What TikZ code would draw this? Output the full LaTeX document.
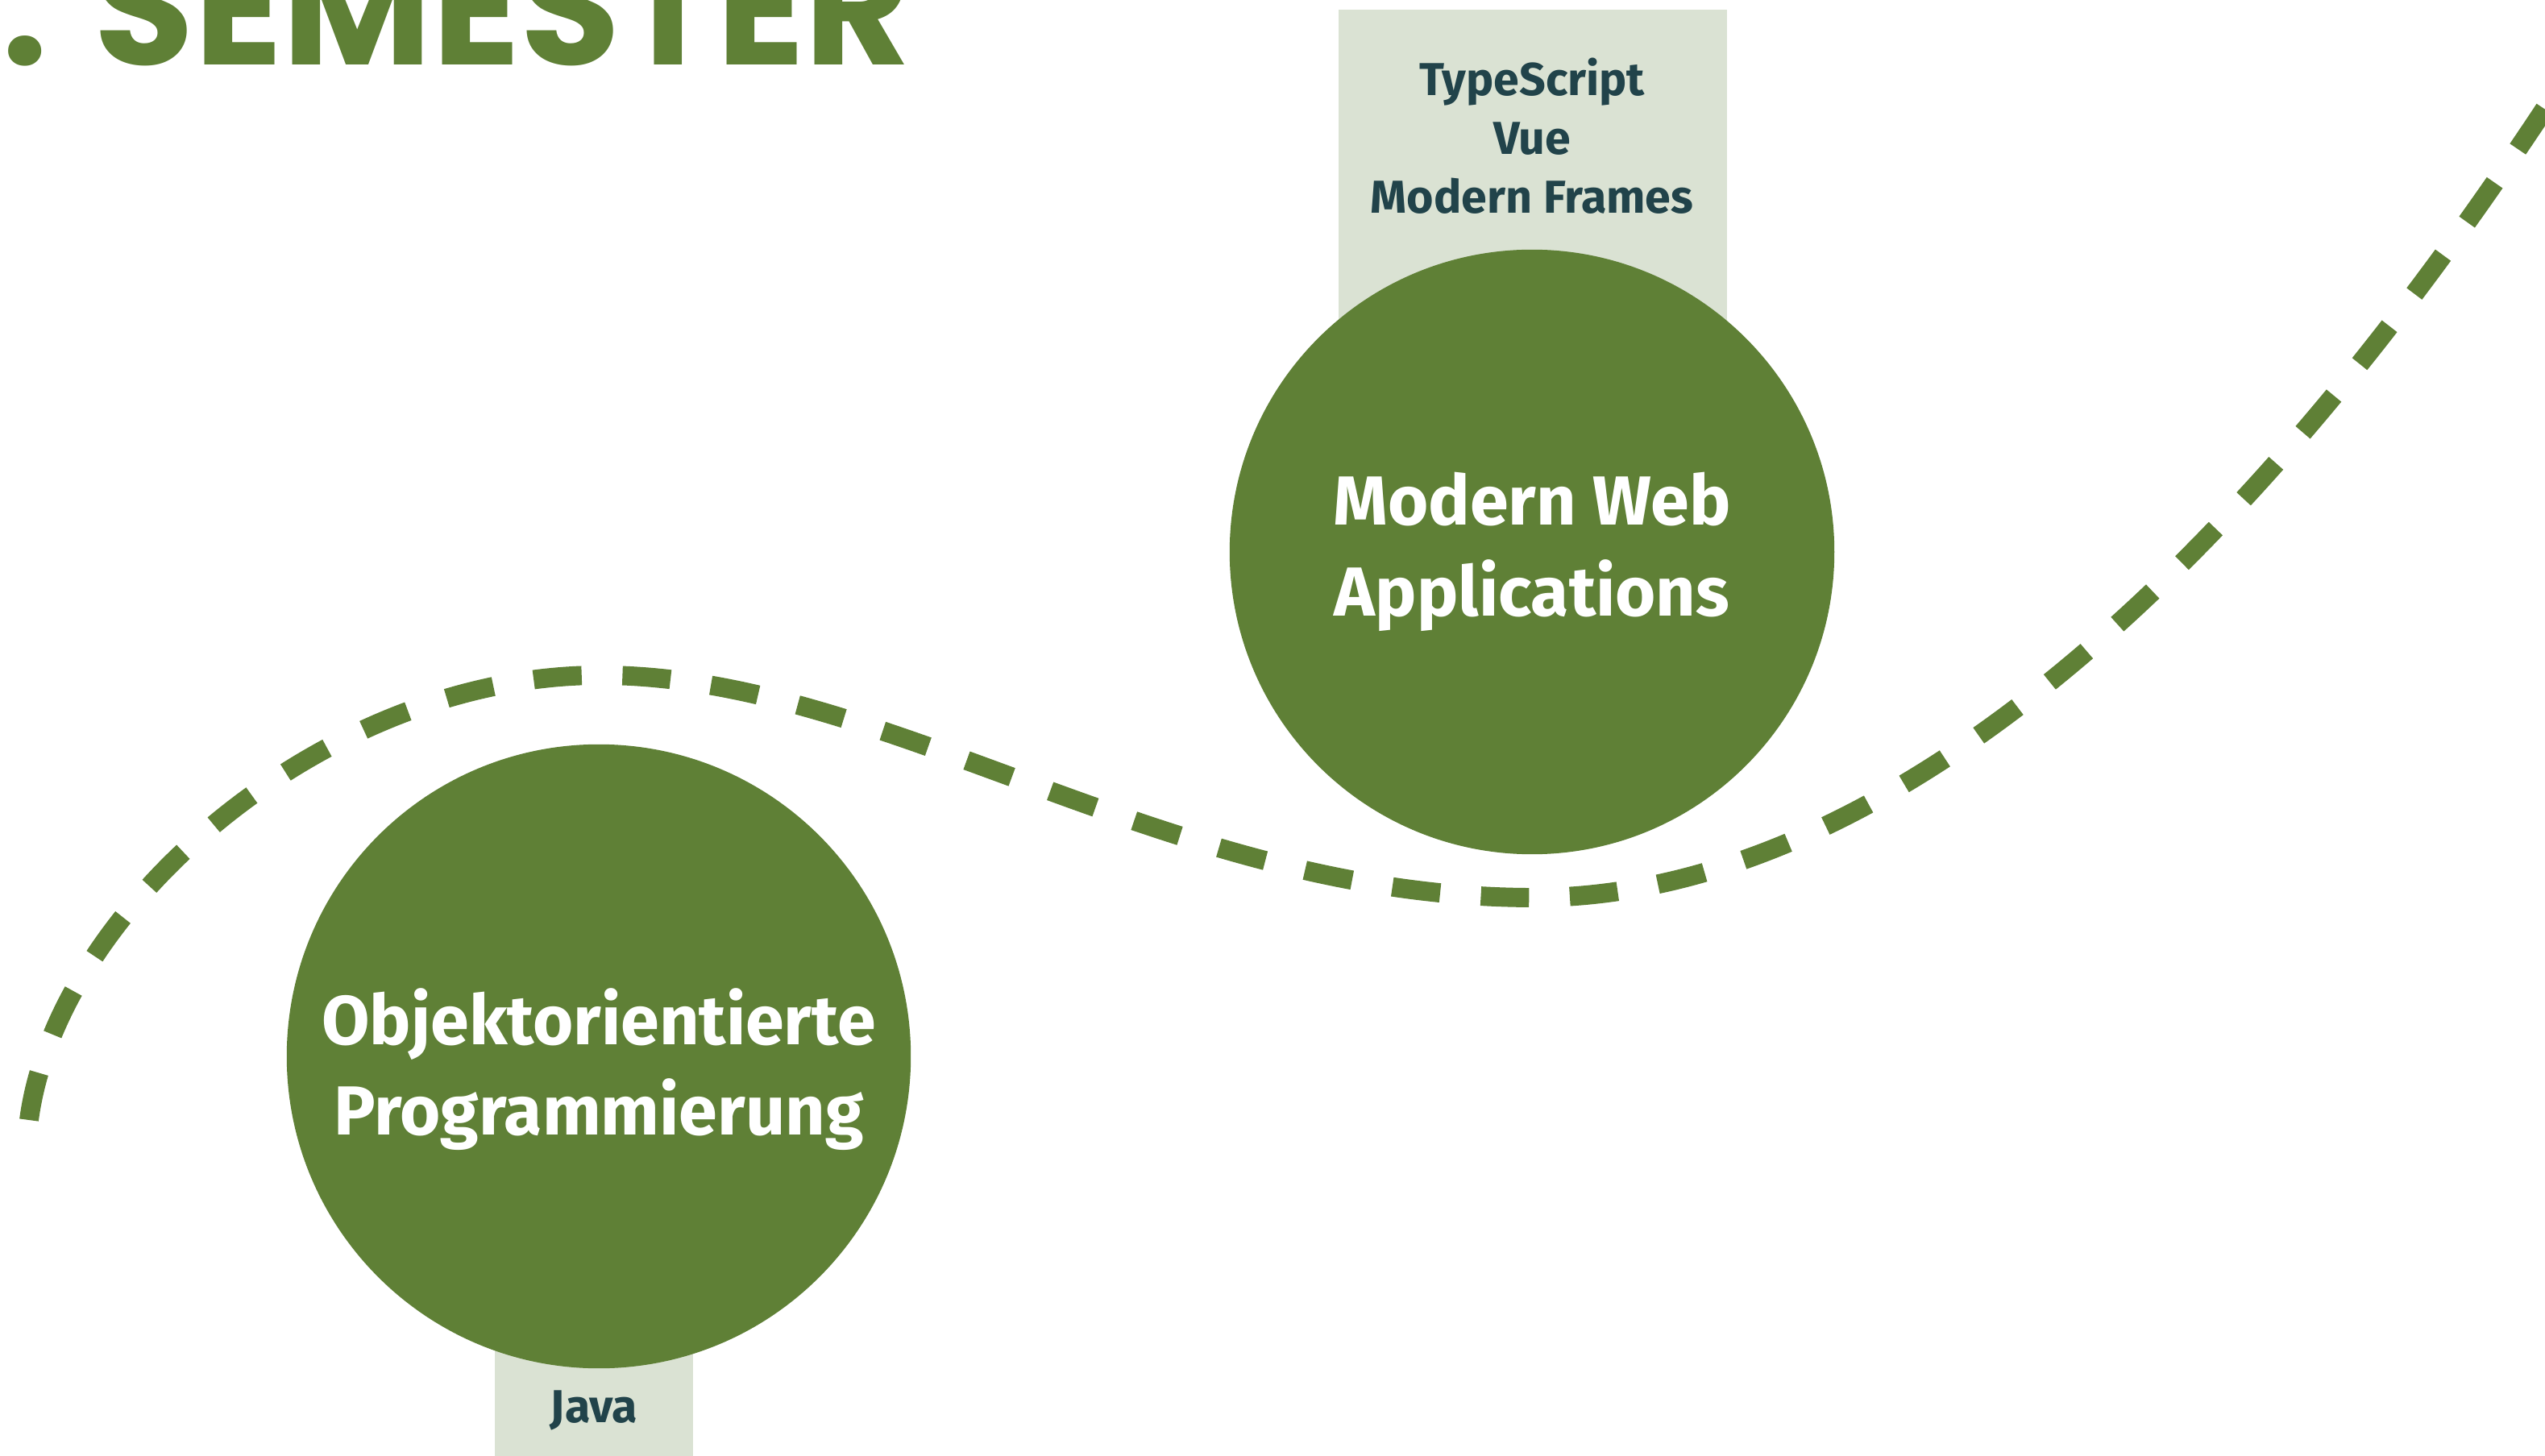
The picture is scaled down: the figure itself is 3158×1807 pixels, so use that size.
\documentclass[tikz,border=0pt]{standalone}
\usepackage{fontspec}
\setmainfont{Fira Sans}
\newfontfamily\titlefont{Poppins}
\definecolor{leaf}{RGB}{95,128,54}
\definecolor{pale}{RGB}{218,226,211}
\definecolor{ink}{RGB}{33,67,74}
\tikzset{
  circ/.style={circle, fill=leaf, draw=none, inner sep=0pt},
  circtext/.style={text=white, align=center,
    font=\bfseries\fontsize{24.5}{32}\selectfont, inner sep=0pt},
  tagbox/.style={rectangle, fill=pale, draw=none, inner sep=0pt},
  tagtext/.style={text=ink, align=center, font=\bfseries\fontsize{16.3}{20.7}\selectfont},
  trail/.style={draw=leaf, line width=6.8pt, dash pattern=on 17pt off 14.4pt}
}
\begin{document}
\begin{tikzpicture}[x=0.01cm, y=-0.01cm]
\useasboundingbox (0,0) rectangle (3158,1807);
\clip (0,0) rectangle (3158,1807);
% title
\node[anchor=base west, text=leaf, inner sep=0pt,
      font=\titlefont\bfseries\fontsize{57.5}{57.5}\selectfont] (title) at (2,81) {. SEMESTER};
% boxes behind circles
\node[tagbox, minimum width=4.82cm, minimum height=6.73cm] (topbox) at (1902,348.5) {};
\node[tagbox, minimum width=2.46cm, minimum height=5.39cm] (botbox) at (737,1580.5) {};
% dashed trail
\coordinate (s) at (36,1390);
\coordinate (peak) at (745,838);
\coordinate (low) at (1903,1114);
\coordinate (e) at (3200,70);
\draw[trail] (s) .. controls (70,1130) and (400,838) .. (peak)
  .. controls (1100,838) and (1450,1114) .. (low)
  .. controls (2270,1114) and (2720,820) .. (e);
% circles
\node[circ, minimum size=7.74cm] (oop) at (743,1311) {};
\node[circtext] (ooptext) at (743,1327) {Objektorientierte\\Programmierung};
\node[circ, minimum size=7.5cm] (mwa) at (1901,685) {};
\node[circtext] (mwatext) at (1901,685) {Modern Web\\Applications};
% labels
\node[tagtext] (toptext) at (1901,169) {TypeScript\\Vue\\Modern Frames};
\node[tagtext] (java) at (737,1750) {Java};
\end{tikzpicture}
\end{document}
